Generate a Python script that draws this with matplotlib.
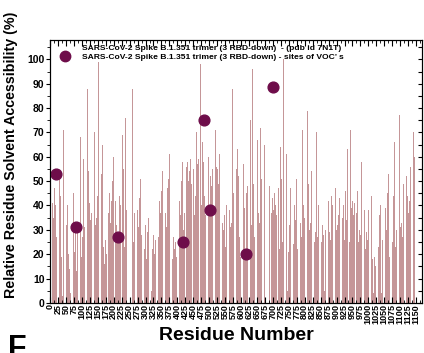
import numpy as np
import matplotlib.pyplot as plt
from matplotlib.lines import Line2D
from matplotlib.patches import Patch
from matplotlib.ticker import MultipleLocator

plt.rcParams['font.family'] = ['Liberation Sans', 'DejaVu Sans']
plt.rcParams['font.weight'] = 'bold'

# relative solvent accessibility (%) per residue, residues 1..1146 (0 = not modelled)
rsa = [
    30, 45, 97, 64, 38, 22, 52, 41, 28, 80, 35, 18, 24, 47, 60, 33, 40, 53, 48, 27, 70, 44, 21, 30, 55,
    20, 36, 12, 31, 52, 25, 14, 44, 76, 30, 19, 4, 63, 3, 5, 34, 71, 45, 22, 29, 50, 17, 38, 58, 26,
    16, 32, 46, 24, 40, 91, 36, 20, 57, 28, 14, 37, 85, 4, 48, 23, 90, 41, 18, 30, 66, 35, 19, 45, 27,
    38, 21, 49, 29, 31, 62, 26, 13, 36, 55, 32, 20, 46, 73, 28, 15, 40, 52, 24, 34, 68, 25, 43, 19, 37,
    50, 27, 17, 35, 59, 40, 22, 31, 84, 36, 16, 26, 48, 67, 33, 20, 44, 88, 29, 38, 54, 23, 97, 41, 30,
    61, 34, 21, 50, 37, 26, 79, 92, 45, 30, 18, 39, 56, 24, 70, 42, 94, 32, 22, 47, 35, 63, 27, 44, 17,
    57, 99, 38, 25, 49, 33, 74, 22, 41, 29, 96, 53, 19, 36, 65, 5, 46, 23, 6, 39, 16, 86, 43, 26, 58,
    34, 20, 48, 30, 89, 40, 24, 62, 37, 18, 91, 45, 27, 53, 33, 21, 71, 42, 88, 29, 50, 17, 39, 60, 31,
    23, 46, 36, 72, 27, 42, 19, 56, 32, 83, 38, 25, 50, 34, 27, 64, 22, 44, 29, 52, 40, 18, 98, 37, 30,
    48, 26, 69, 40, 21, 55, 33, 44, 23, 51, 35, 76, 28, 46, 38, 62, 30, 0, 0, 0, 0, 0, 0, 0, 0,
    0, 0, 0, 0, 0, 0, 0, 40, 88, 33, 50, 25, 45, 20, 37, 60, 29, 48, 22, 41, 70, 35, 24, 54, 38,
    19, 47, 31, 66, 26, 43, 36, 21, 51, 39, 93, 28, 48, 23, 58, 34, 17, 42, 74, 30, 38, 22, 50, 63, 32,
    25, 44, 18, 37, 55, 29, 47, 98, 35, 21, 41, 70, 27, 50, 33, 19, 59, 6, 5, 48, 36, 22, 92, 43, 28,
    52, 35, 20, 68, 40, 26, 53, 31, 18, 45, 80, 36, 23, 57, 38, 27, 49, 21, 42, 62, 30, 37, 88, 25, 46,
    34, 19, 54, 39, 28, 73, 22, 44, 35, 50, 24, 65, 37, 17, 43, 31, 4, 26, 47, 36, 20, 51, 29, 40, 61,
    23, 49, 34, 21, 69, 40, 28, 53, 37, 18, 98, 45, 27, 52, 33, 22, 60, 41, 25, 77, 36, 19, 48, 30, 56,
    38, 24, 45, 32, 64, 20, 42, 51, 28, 36, 72, 22, 50, 39, 26, 58, 25, 44, 30, 53, 19, 37, 62, 31, 49,
    52, 90, 44, 56, 48, 38, 58, 45, 67, 50, 41, 96, 54, 35, 47, 59, 43, 60, 49, 39, 61, 53, 46, 64, 42,
    55, 92, 48, 36, 60, 51, 44, 62, 47, 70, 40, 53, 57, 45, 38, 59, 50, 63, 42, 55, 48, 65, 98, 46, 52,
    40, 60, 48, 66, 55, 42, 58, 50, 75, 44, 61, 52, 36, 98, 47, 56, 53, 40, 57, 49, 69, 45, 60, 51, 41,
    38, 58, 46, 52, 41, 60, 48, 91, 39, 55, 50, 64, 43, 54, 37, 57, 47, 59, 40, 71, 50, 44, 56, 35, 52,
    55, 27, 37, 49, 100, 32, 61, 41, 22, 45, 34, 57, 28, 40, 18, 48, 33, 5, 43, 30, 51, 21, 36, 27, 39,
    23, 46, 32, 40, 26, 56, 37, 20, 49, 34, 68, 28, 44, 38, 24, 52, 31, 42, 62, 33, 50, 22, 88, 39, 29,
    45, 35, 58, 25, 41, 73, 31, 49, 21, 38, 55, 29, 44, 63, 34, 24, 52, 39, 6, 27, 47, 36, 19, 60, 40,
    30, 50, 37, 84, 26, 43, 33, 57, 22, 46, 39, 66, 28, 20, 55, 35, 45, 100, 29, 48, 40, 70, 24, 42, 34,
    58, 29, 47, 36, 75, 25, 44, 32, 52, 21, 96, 40, 30, 49, 35, 62, 27, 43, 37, 81, 31, 53, 23, 45, 34,
    41, 67, 28, 48, 37, 22, 56, 33, 44, 26, 72, 39, 30, 51, 35, 60, 100, 43, 27, 53, 36, 46, 24, 65, 38,
    32, 0, 0, 0, 0, 0, 0, 0, 0, 0, 0, 0, 0, 48, 35, 58, 88, 41, 30, 62, 37, 47, 26, 43, 34,
    88, 38, 52, 29, 45, 33, 69, 40, 24, 50, 36, 59, 30, 43, 35, 76, 27, 47, 39, 55, 22, 41, 32, 64, 37,
    28, 51, 36, 44, 25, 57, 40, 100, 31, 48, 34, 68, 38, 23, 52, 42, 29, 61, 35, 46, 5, 74, 6, 21, 50,
    41, 32, 63, 36, 47, 27, 58, 39, 33, 81, 29, 44, 35, 54, 24, 49, 97, 40, 31, 60, 34, 42, 28, 51, 37,
    46, 22, 66, 34, 41, 30, 55, 37, 25, 50, 92, 33, 44, 38, 27, 59, 36, 71, 29, 48, 40, 21, 53, 35, 43,
    28, 62, 37, 47, 24, 50, 41, 31, 79, 38, 26, 49, 35, 57, 30, 42, 68, 33, 45, 23, 54, 39, 28, 47, 36,
    60, 31, 43, 48, 37, 25, 56, 39, 29, 45, 36, 70, 33, 41, 27, 35, 100, 40, 50, 32, 65, 37, 26, 52, 42,
    35, 49, 25, 43, 58, 32, 39, 73, 28, 47, 36, 5, 50, 41, 30, 62, 35, 45, 26, 55, 38, 31, 48, 24, 42,
    64, 34, 29, 46, 39, 26, 51, 36, 44, 31, 67, 40, 27, 96, 33, 49, 23, 42, 57, 35, 28, 47, 38, 72, 30,
    41, 53, 32, 25, 47, 36, 61, 29, 43, 34, 84, 27, 50, 39, 31, 56, 6, 45, 35, 68, 30, 40, 33, 50, 26,
    88, 37, 46, 30, 58, 34, 41, 24, 63, 36, 49, 28, 40, 32, 54, 25, 44, 35, 71, 30, 47, 39, 92, 27, 42,
    31, 50, 36, 26, 60, 41, 29, 45, 34, 67, 24, 43, 37, 52, 28, 46, 33, 40, 25, 57, 36, 30, 89, 39, 28,
    48, 33, 58, 25, 42, 36, 65, 30, 45, 34, 27, 53, 38, 31, 47, 22, 40, 62, 29, 43, 35, 26, 97, 32, 38,
    24, 35, 20, 41, 28, 16, 37, 30, 22, 44, 26, 33, 18, 38, 5, 4, 23, 6, 19, 36, 29, 15, 42, 25, 33,
    21, 39, 28, 17, 43, 31, 23, 48, 27, 36, 19, 32, 40, 24, 30, 4, 5, 52, 26, 88, 33, 22, 40, 29, 35,
    20, 46, 31, 39, 25, 58, 30, 38, 22, 45, 34, 27, 53, 33, 42, 19, 57, 37, 29, 47, 26, 70, 80, 35, 41,
    25, 50, 33, 44, 38, 28, 66, 36, 47, 23, 58, 40, 30, 73, 37, 46, 27, 61, 34, 42, 52, 26, 77, 39, 48,
    31, 64, 41, 33, 55, 45, 27, 72, 36, 49, 42, 84, 32, 59, 38, 47, 29, 68, 35, 52, 40, 90, 44, 34, 61,
    37, 50, 74, 42, 90, 31, 56, 47, 38, 65, 44, 54, 33, 91, 50, 40, 70, 36, 88, 60, 77,
]
residues = np.arange(1, len(rsa) + 1)

# variant-of-concern sites (B.1.351)
voc_sites = [18, 80, 215, 417, 484, 501, 614, 701]
voc_rsa = [53, 31, 27, 25, 75, 38, 20, 88.5]

fig = plt.figure(figsize=(4.24, 3.53), dpi=100)
ax = fig.add_axes([0.118, 0.142, 0.877, 0.745])

ax.bar(residues, rsa, width=0.75, color='#aa6468', alpha=0.68, linewidth=0)
ax.scatter(voc_sites, voc_rsa, s=60, color='#6e0d4a', zorder=3)

ax.set_xlim(0, 1168)
ax.set_ylim(0, 108)
ax.xaxis.set_major_locator(MultipleLocator(25))
ax.xaxis.set_minor_locator(MultipleLocator(12.5))
ax.yaxis.set_major_locator(MultipleLocator(10))
ax.yaxis.set_minor_locator(MultipleLocator(5))
ax.tick_params(axis='x', which='both', direction='in', top=True, labelsize=6.5, rotation=90, pad=1)
ax.tick_params(axis='x', which='major', length=4)
ax.tick_params(axis='x', which='minor', length=2)
ax.tick_params(axis='y', which='both', direction='out', labelsize=7.5, pad=1)
ax.tick_params(axis='y', which='major', length=3)
ax.tick_params(axis='y', which='minor', length=2)
for lab in ax.get_xticklabels() + ax.get_yticklabels():
    lab.set_fontweight('bold')

# right spine ticks pointing in
ax2 = ax.twinx()
ax2.set_ylim(0, 108)
ax2.yaxis.set_major_locator(MultipleLocator(5))
ax2.tick_params(axis='y', direction='in', length=3, labelright=False)

ax.set_xlabel('Residue Number', fontsize=14, fontweight='bold', labelpad=2)
ax.set_ylabel('Relative Residue Solvent Accessibility (%)', fontsize=10.3, fontweight='bold')
ax.yaxis.set_label_coords(-0.087, 0.563)

handles = [Patch(facecolor='none', edgecolor='none'),
           Line2D([], [], marker='o', color='#6e0d4a', linestyle='none', markersize=7.5)]
labels = ['SARS-CoV-2 Spike B.1.351 trimer (3 RBD-down)  - (pdb id 7N1T)',
          'SARS-CoV-2 Spike B.1.351 trimer (3 RBD-down) - sites of VOC\u2019 s']
ax.legend(handles, labels, loc='upper left', frameon=False,
          handlelength=2.6, handletextpad=0.7, labelspacing=0.15,
          borderaxespad=0.15, borderpad=0.3, prop={'weight': 'bold', 'size': 6.1})

fig.text(0.02, -0.03, 'F', fontsize=22, fontweight='bold', va='bottom')

fig.savefig('out.png', dpi=100)
